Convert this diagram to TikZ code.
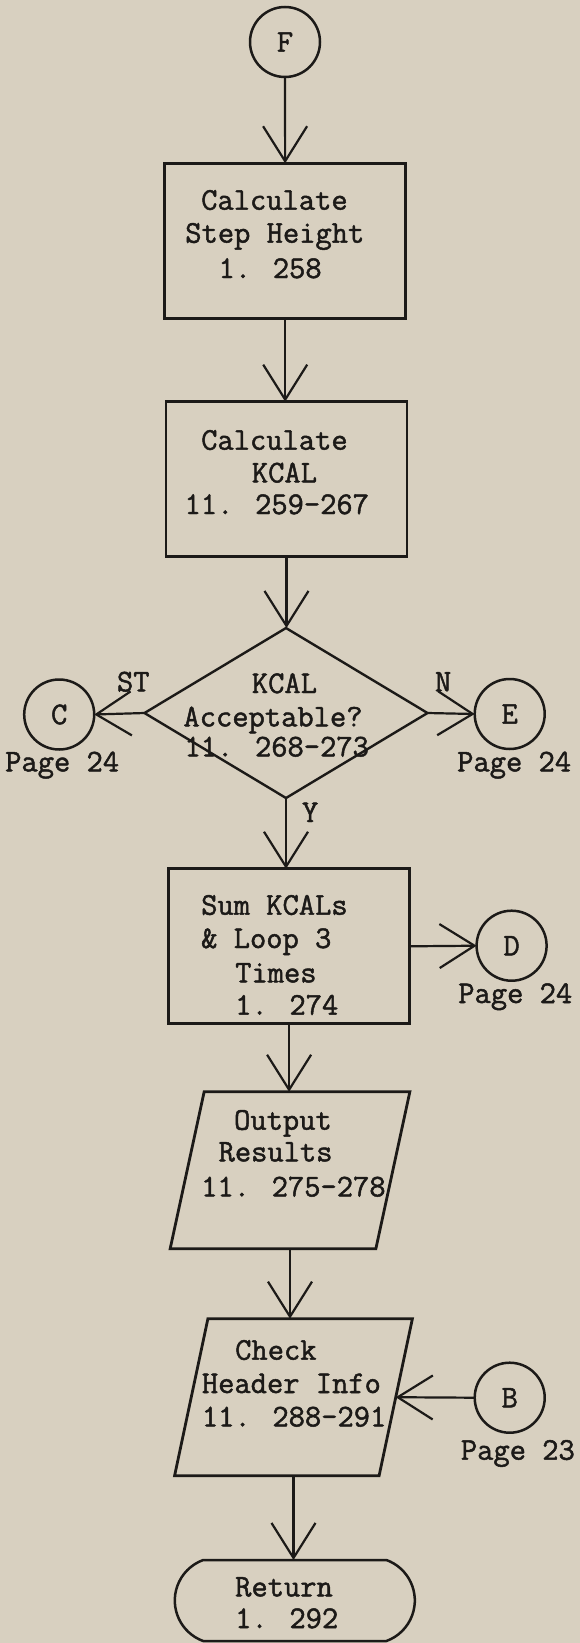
\documentclass[tikz,border=0pt]{standalone}
\usepackage{fontspec}
\usetikzlibrary{arrows.meta,shapes.geometric,shapes.misc,calc}
\definecolor{paper}{RGB}{216,208,192}
\definecolor{ink}{RGB}{28,26,24}
% typewriter face, slightly heavier than the regular cut
\newfontfamily\typew{Latin Modern Mono}[RawFeature={embolden=1.5}]
\newcommand\lbl{\typew\fontsize{31.6pt}{34pt}\selectfont}
\begin{document}
\begin{tikzpicture}[x=1pt,y=-1pt,
  every node/.style={inner sep=0pt,outer sep=0pt},
  procbox/.style={rectangle,draw=ink,line width=2.8pt,minimum width=241pt,minimum height=155pt},
  joint/.style={circle,draw=ink,line width=2.5pt,minimum size=70pt,font=\lbl,text=ink},
  ioholder/.style={rectangle,minimum width=#1,minimum height=157pt},
  ioline/.style={draw=ink,line width=2.8pt},
  flow/.style={draw=ink,line width=2.2pt,-{Straight Barb[length=35pt,width=44pt]}},
  txt/.style={font=\lbl,anchor=base west,text=ink}]

% paper and page size
\fill[paper] (0,0) rectangle (580,1643);
\useasboundingbox (0,0) rectangle (580,1643);

% connectors (circles)
\node[joint] (F) at (285,42) {F};
\node[joint] (C) at (59.2,714.5) {C};
\node[joint] (E) at (509.7,714) {E};
\node[joint] (D) at (511.6,945.7) {D};
\node[joint] (B) at (509.7,1397.7) {B};

% process boxes
\node[procbox] (box1) at (285.2,240.8) {};
\node[procbox] (box2) at (286.5,479.2) {};
\node[procbox] (box3) at (289.1,946.3) {};

% decision
\node[diamond,draw=ink,line width=2.4pt,minimum width=283pt,minimum height=170pt] (dia) at (286,713) {};

% input/output parallelograms
\node[ioholder=239.7pt] (p1) at (290,1170.3) {};
\draw[ioline] ($(p1.north west)+(34,0)$) -- (p1.north east) -- ($(p1.south east)-(34,0)$) -- (p1.south west) -- cycle;
\node[ioholder=237.8pt] (p2) at (293.5,1397.2) {};
\draw[ioline] ($(p2.north west)+(33.3,0)$) -- (p2.north east) -- ($(p2.south east)-(33.3,0)$) -- (p2.south west) -- cycle;
\coordinate (p2r) at ($(p2.east)-(16.7,0)$);

% terminator
\node[rounded rectangle,rounded rectangle arc length=140,draw=ink,line width=2.5pt,minimum width=240pt,minimum height=81pt] (ret) at (294.8,1600.5) {};

% box texts
\node[txt] (b1a) at (201.2,209.7) {Calculate};
\node[txt] (b1b) at (185.3,242.7) {Step Height};
\node[txt] (b1c) at (218.6,278.0) {1. 258};
\node[txt] (b2a) at (201.2,449.7) {Calculate};
\node[txt] (b2b) at (251.9,482.4) {KCAL};
\node[txt] (b2c) at (184.6,514.0) {11. 259-267};
\node[txt] (d1a) at (251.9,693.0) {KCAL};
\node[txt] (d1b) at (183.5,726.4) {Acceptable?};
\node[txt] (d1c) at (184.5,756.4) {11. 268-273};
\node[txt] (b3a) at (201.2,914.7) {Sum KCALs};
\node[txt] (b3b) at (201.2,948.0) {\& Loop 3};
\node[txt] (b3c) at (235.2,982.4) {Times};
\node[txt] (b3d) at (235.2,1014.7) {1. 274};
\node[txt] (p1a) at (234.1,1129.7) {Output};
\node[txt] (p1b) at (218.6,1161.4) {Results};
\node[txt] (p1c) at (201.2,1196.4) {11. 275-278};
\node[txt] (p2a) at (235.2,1359.7) {Check};
\node[txt] (p2b) at (201.9,1393.0) {Header Info};
\node[txt] (p2c) at (201.9,1426.4) {11. 288-291};
\node[txt] (r1a) at (235.2,1596.4) {Return};
\node[txt] (r1b) at (235.2,1628.0) {1. 292};

% page references and branch labels
\node[txt] (pgC) at (5.2,771.4) {Page 24};
\node[txt] (pgE) at (457.2,771.4) {Page 24};
\node[txt] (pgD) at (458.3,1003.0) {Page 24};
\node[txt] (pgB) at (460.9,1459.7) {Page 23};
\node[txt] (lST) at (117,691.4) {ST};
\node[txt] (lN) at (435,691.4) {N};
\node[txt] (lY) at (302,822) {Y};

% flow lines
\draw[flow] (F) -- (box1);
\draw[flow] (box1.south) -- (box1.south |- box2.north);
\draw[flow] (box2.south) -- (box2.south |- dia.north);
\draw[flow] (dia.west) -- (C.east);
\draw[flow] (dia.east) -- (E.west);
\draw[flow] (dia.south) -- (dia.south |- box3.north);
\draw[flow] (box3.east) -- (D.west);
\draw[flow] (box3.south) -- (box3.south |- p1.north);
\draw[flow] (p1.south) -- (p1.south |- p2.north);
\draw[flow] (B.west) -- (p2r);
\draw[flow] (p2.south) -- (p2.south |- ret.north);
\end{tikzpicture}
\end{document}
